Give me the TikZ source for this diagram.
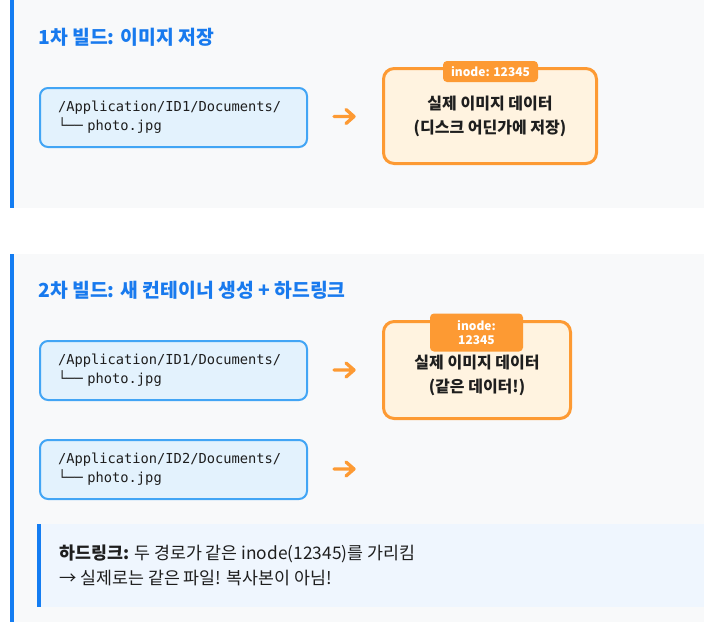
\documentclass[tikz,border=0pt]{standalone}
\usepackage{fontspec}
\setmainfont{Noto Sans CJK KR}
\newfontfamily\codefont{DejaVu Sans Mono}
\definecolor{secbg}{RGB}{248,249,250}
\definecolor{barblue}{RGB}{20,125,242}
\definecolor{titleblue}{RGB}{24,122,238}
\definecolor{codeborder}{RGB}{66,165,245}
\definecolor{codefill}{RGB}{227,242,253}
\definecolor{orangeline}{RGB}{253,154,51}
\definecolor{orangefill}{RGB}{255,243,224}
\definecolor{notefill}{RGB}{239,246,254}
\definecolor{ink}{RGB}{30,30,30}
\begin{document}
\begin{tikzpicture}[x=0.75pt,y=-0.75pt,
  title/.style={anchor=west,inner sep=0pt,text=titleblue,font=\fontsize{14.5pt}{17pt}\selectfont\bfseries},
  codebox/.style={draw=codeborder,fill=codefill,line width=1.5pt,rounded corners=6pt,
    anchor=west,align=left,text width=173.25pt,inner xsep=13.5pt,inner ysep=0pt,
    minimum height=44.25pt,text=ink,font=\codefont\fontsize{10.3pt}{14.25pt}\selectfont},
  databox/.style={draw=orangeline,fill=orangefill,line width=2.25pt,rounded corners=8pt,
    align=center,inner sep=0pt,text=ink,font=\fontsize{12pt}{18pt}\selectfont\bfseries},
  tag/.style={fill=orangeline,rounded corners=3pt,align=center,inner sep=0pt,text=white,
    font=\fontsize{9pt}{10.9pt}\selectfont\bfseries},
  arrowline/.style={draw=orangeline,line width=2.5pt,line cap=round,line join=round},
  notetext/.style={anchor=west,align=left,inner sep=0pt,text=ink,font=\fontsize{13pt}{18.75pt}\selectfont}
]
\useasboundingbox (0,0) rectangle (704,622);
\fill[white] (0,0) rectangle (704,622);
% section 1
\fill[secbg] (10,0) rectangle (704,208);
\fill[barblue] (10,0) rectangle (14,208);
% section 2
\fill[secbg] (10,254) rectangle (704,622);
\fill[barblue] (10,254) rectangle (14,622);

% section 1 content
\node[title] (t1) at (38,37) {1차 빌드: 이미지 저장};
\node[codebox] (p1) at (39,117.5) {/Application/ID1/Documents/\\└── photo.jpg};
\coordinate (a1s) at (334,116.5);
\coordinate (a1e) at (354,116.5);
\draw[arrowline] (a1s) -- (a1e) (a1e) ++(-8,-7) -- (a1e) -- ++(-8,7);
\node[databox,minimum width=159.75pt,minimum height=71.25pt] (d1) at (490,116) {실제 이미지 데이터\\(디스크 어딘가에 저장)};
\node[tag,minimum width=71.25pt,minimum height=15.75pt] (g1) at (490.5,71.5) {inode: 12345};

% section 2 content
\node[title] (t2) at (38,290) {2차 빌드: 새 컨테이너 생성 + 하드링크};
\node[codebox] (p2) at (39,370.5) {/Application/ID1/Documents/\\└── photo.jpg};
\node[codebox] (p3) at (39,469.5) {/Application/ID2/Documents/\\└── photo.jpg};
\coordinate (a2s) at (334,370);
\coordinate (a2e) at (354,370);
\draw[arrowline] (a2s) -- (a2e) (a2e) ++(-8,-7) -- (a2e) -- ++(-8,7);
\coordinate (a3s) at (334,469);
\coordinate (a3e) at (354,469);
\draw[arrowline] (a3s) -- (a3e) (a3e) ++(-8,-7) -- (a3e) -- ++(-8,7);
\node[databox,minimum width=140.25pt,minimum height=72.75pt,text depth=0pt] (d2) at (477,370) {\\[-3pt]실제 이미지 데이터\\(같은 데이터!)};
\node[tag,minimum width=69.75pt,minimum height=28.5pt] (g2) at (476.5,332.5) {inode:\\12345};

% note
\fill[notefill] (38,524) rectangle (704,607);
\fill[barblue] (37,524) rectangle (41,607);
\node[notetext] (n1) at (59,565.5) {\textbf{하드링크:} 두 경로가 같은 inode(12345)를 가리킴\\→ 실제로는 같은 파일! 복사본이 아님!};
\end{tikzpicture}
\end{document}
